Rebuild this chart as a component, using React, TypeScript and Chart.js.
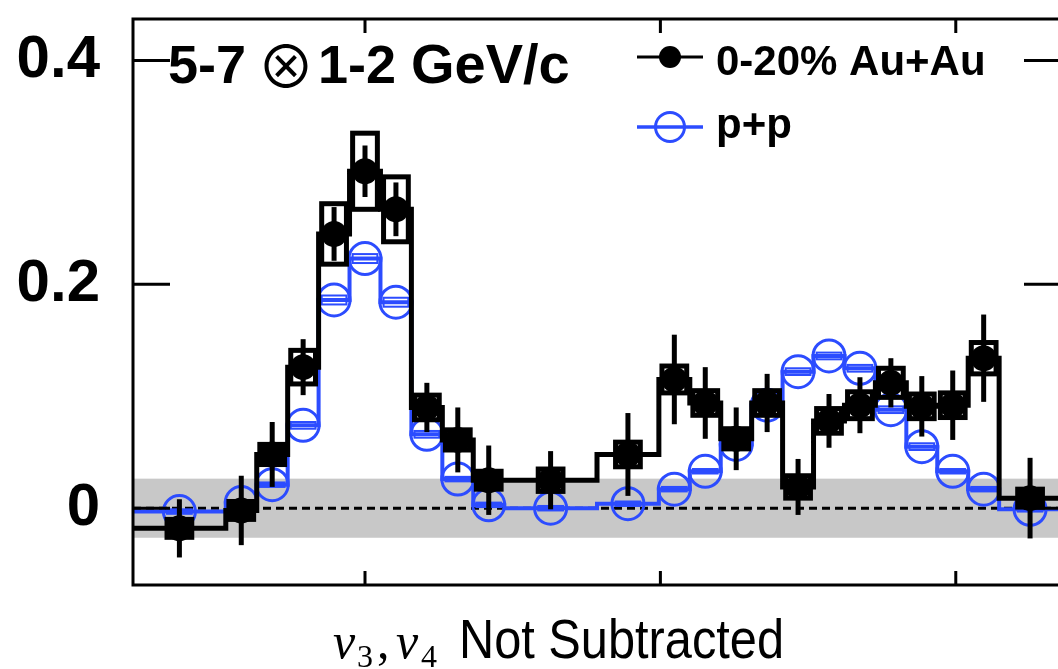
import React, { useEffect, useRef } from "react";
import { Chart, registerables } from "chart.js";

Chart.register(...registerables);

// Δφ bin width (rad); bin edges below are given in units of this width
const BIN = Math.PI / 30;
const BIN_EDGES = [
  -7.5, -4.5, -3.5, -2.5, -1.5, -0.5, 0.5, 1.5, 2.5, 3.5, 4.5, 7.5, 9.5,
  10.5, 11.5, 12.5, 13.5, 14.5, 15.5, 16.5, 17.5, 18.5, 19.5, 20.5, 22.5,
];

// 0-20% Au+Au per-trigger yields, statistical and systematic uncertainties
const AUAU = [
  -0.018, -0.002, 0.048, 0.126, 0.245, 0.301, 0.267, 0.09, 0.061, 0.025,
  0.025, 0.048, 0.115, 0.094, 0.062, 0.094, 0.019, 0.078, 0.092, 0.112,
  0.091, 0.092, 0.134, 0.009,
];
const AUAU_STAT = [
  0.026, 0.031, 0.029, 0.025, 0.024, 0.023, 0.024, 0.022, 0.029, 0.031,
  0.026, 0.037, 0.04, 0.032, 0.028, 0.026, 0.025, 0.024, 0.025, 0.022,
  0.027, 0.031, 0.039, 0.036,
];
const AUAU_SYS = [
  0.008, 0.008, 0.009, 0.015, 0.027, 0.034, 0.029, 0.011, 0.009, 0.008,
  0.01, 0.011, 0.012, 0.011, 0.009, 0.011, 0.01, 0.011, 0.012, 0.013,
  0.011, 0.011, 0.014, 0.008,
];

// p+p per-trigger yields and systematic uncertainties
const PP = [
  -0.003, 0.005, 0.021, 0.074, 0.186, 0.223, 0.184, 0.066, 0.026, 0.003,
  0.0, 0.004, 0.017, 0.033, 0.057, 0.092, 0.122, 0.136, 0.125, 0.088,
  0.055, 0.033, 0.017, -0.001,
];
const PP_SYS = [
  0.002, 0.002, 0.002, 0.003, 0.004, 0.004, 0.004, 0.003, 0.002, 0.002,
  0.002, 0.002, 0.002, 0.002, 0.003, 0.003, 0.003, 0.003, 0.003, 0.003,
  0.003, 0.002, 0.002, 0.002,
];

const X_TICKS = [0, 1, 2];
const Y_TICKS = [0, 0.2, 0.4];
const X_MIN = -Math.PI / 4;
const X_MAX = (3 * Math.PI) / 4;
const Y_MIN = -0.0686;
const Y_MAX = 0.437;
// overall normalisation uncertainty band around zero
const BAND_HALF = 0.0264;

const TITLE_PARTS = ["5-7", "\u2297", "1-2", "GeV/c"];
const LEGEND_LABELS = ["0-20% Au+Au", "p+p"];

const BLACK = "#000000";
const BLUE = "#2c4cff";
const SANS = '"Liberation Sans", Arial, Helvetica, sans-serif';
const SERIF = '"Liberation Serif", "DejaVu Serif", serif';

const centers = BIN_EDGES.slice(0, -1).map((e, i) => ((e + BIN_EDGES[i + 1]) / 2) * BIN);

function stepPoints(vals: number[]) {
  const pts: { x: number; y: number }[] = [];
  vals.forEach((v, i) => {
    pts.push({ x: BIN_EDGES[i] * BIN, y: v });
    pts.push({ x: BIN_EDGES[i + 1] * BIN, y: v });
  });
  return pts;
}

function pointData(vals: number[]) {
  return vals.map((v, i) => ({ x: centers[i], y: v }));
}

const BOX_HALF_W = 0.4 * BIN;

const decorations = {
  id: "decorations",
  beforeDatasetsDraw(chart: any) {
    const { ctx, chartArea: a, scales } = chart;
    const y = scales.y;
    ctx.save();
    ctx.fillStyle = "#c8c8c8";
    const t = y.getPixelForValue(BAND_HALF);
    const b = y.getPixelForValue(-BAND_HALF);
    ctx.fillRect(a.left, t, a.right - a.left, b - t);
    ctx.strokeStyle = BLACK;
    ctx.lineWidth = 3;
    ctx.setLineDash([8, 5]);
    const y0 = y.getPixelForValue(0);
    ctx.beginPath();
    ctx.moveTo(a.left, y0);
    ctx.lineTo(a.right, y0);
    ctx.stroke();
    ctx.restore();
  },
  afterDatasetDraw(chart: any, args: any) {
    const { ctx, scales, chartArea: a } = chart;
    const xs = scales.x;
    const ys = scales.y;
    ctx.save();
    ctx.beginPath();
    ctx.rect(a.left, a.top, a.right - a.left, a.bottom - a.top);
    ctx.clip();
    if (args.index === 2) {
      // p+p systematic boxes
      ctx.strokeStyle = BLUE;
      ctx.lineWidth = 2;
      PP.forEach((v, i) => {
        const l = xs.getPixelForValue(centers[i] - BOX_HALF_W);
        const r = xs.getPixelForValue(centers[i] + BOX_HALF_W);
        const t = ys.getPixelForValue(v + PP_SYS[i]);
        const bt = ys.getPixelForValue(v - PP_SYS[i]);
        ctx.strokeRect(l, t, r - l, bt - t);
      });
    }
    if (args.index === 1) {
      // Au+Au systematic boxes and statistical bars
      ctx.strokeStyle = BLACK;
      ctx.lineWidth = 5;
      AUAU.forEach((v, i) => {
        const l = xs.getPixelForValue(centers[i] - BOX_HALF_W);
        const r = xs.getPixelForValue(centers[i] + BOX_HALF_W);
        const t = ys.getPixelForValue(v + AUAU_SYS[i]);
        const bt = ys.getPixelForValue(v - AUAU_SYS[i]);
        ctx.strokeRect(l, t, r - l, bt - t);
      });
      ctx.lineWidth = 5;
      ctx.lineCap = "butt";
      AUAU.forEach((v, i) => {
        const x = xs.getPixelForValue(centers[i]);
        ctx.beginPath();
        ctx.moveTo(x, ys.getPixelForValue(v + AUAU_STAT[i]));
        ctx.lineTo(x, ys.getPixelForValue(v - AUAU_STAT[i]));
        ctx.stroke();
      });
    }
    ctx.restore();
  },
  afterDraw(chart: any) {
    const { ctx, chartArea: a, scales } = chart;
    const xs = scales.x;
    const ys = scales.y;
    ctx.save();
    ctx.strokeStyle = BLACK;
    ctx.lineWidth = 3;
    ctx.lineCap = "butt";
    ctx.setLineDash([]);
    // frame
    ctx.beginPath();
    ctx.moveTo(a.left, a.top);
    ctx.lineTo(a.right, a.top);
    ctx.moveTo(a.left, a.top - 1.5);
    ctx.lineTo(a.left, a.bottom + 1.5);
    ctx.moveTo(a.left, a.bottom);
    ctx.lineTo(a.right, a.bottom);
    ctx.moveTo(a.right, a.top);
    ctx.lineTo(a.right, a.bottom);
    ctx.stroke();
    // inward ticks
    ctx.beginPath();
    X_TICKS.forEach((v) => {
      const x = xs.getPixelForValue(v);
      ctx.moveTo(x, a.bottom);
      ctx.lineTo(x, a.bottom - 14);
      ctx.moveTo(x, a.top);
      ctx.lineTo(x, a.top + 14);
    });
    Y_TICKS.forEach((v) => {
      const y = ys.getPixelForValue(v);
      ctx.moveTo(a.left, y);
      ctx.lineTo(a.left + 37, y);
      ctx.moveTo(a.right, y);
      ctx.lineTo(a.right - 37, y);
    });
    ctx.stroke();

    // panel label
    ctx.fillStyle = BLACK;
    ctx.textBaseline = "alphabetic";
    ctx.textAlign = "left";
    ctx.font = `bold 54px ${SANS}`;
    ctx.fillText(TITLE_PARTS[0], 168, 83);
    ctx.font = `58px "Noto Sans CJK JP", "DejaVu Sans", sans-serif`;
    ctx.textAlign = "center";
    ctx.textBaseline = "middle";
    ctx.fillText(TITLE_PARTS[1], 286, 66);
    ctx.textAlign = "left";
    ctx.textBaseline = "alphabetic";
    ctx.font = `bold 54px ${SANS}`;
    ctx.fillText(TITLE_PARTS[2], 318, 83);
    ctx.font = `bold 56px ${SANS}`;
    ctx.fillText(TITLE_PARTS[3], 411, 83);

    // legend
    ctx.lineWidth = 3;
    ctx.strokeStyle = BLACK;
    ctx.beginPath();
    ctx.moveTo(637, 57);
    ctx.lineTo(703, 57);
    ctx.stroke();
    ctx.beginPath();
    ctx.arc(670, 57, 11, 0, Math.PI * 2);
    ctx.fill();
    ctx.strokeStyle = BLUE;
    ctx.lineWidth = 3.5;
    ctx.beginPath();
    ctx.moveTo(637, 127);
    ctx.lineTo(703, 127);
    ctx.stroke();
    ctx.lineWidth = 3;
    ctx.beginPath();
    ctx.arc(670, 127, 14.5, 0, Math.PI * 2);
    ctx.stroke();
    ctx.fillStyle = BLACK;
    ctx.font = `bold 42px ${SANS}`;
    ctx.fillText(LEGEND_LABELS[0], 716, 75);
    ctx.fillText(LEGEND_LABELS[1], 716, 138);

    // axis title: v_3, v_4 Not Subtracted
    const base = 658;
    ctx.font = `italic 50px ${SERIF}`;
    ctx.fillText("v", 333, base);
    ctx.font = `32px ${SERIF}`;
    ctx.fillText("3", 357, base + 9);
    ctx.font = `50px ${SERIF}`;
    ctx.fillText(",", 377, base);
    ctx.font = `italic 50px ${SERIF}`;
    ctx.fillText("v", 396, base);
    ctx.font = `32px ${SERIF}`;
    ctx.fillText("4", 421, base + 9);
    // condensed sans: regular face compressed horizontally
    ctx.font = `56px ${SANS}`;
    ctx.translate(459, base);
    ctx.scale(0.87, 1);
    ctx.fillText("Not Subtracted", 0, 0);
    ctx.restore();
  },
};

export default function App() {
  const ref = useRef<HTMLCanvasElement | null>(null);

  useEffect(() => {
    if (!ref.current) return;
    const chart = new Chart(ref.current, {
      type: "line",
      data: {
        datasets: [
          {
            // Au+Au markers
            data: pointData(AUAU),
            showLine: false,
            pointRadius: 13,
            pointBackgroundColor: BLACK,
            pointBorderWidth: 0,
            order: 1,
          },
          {
            // Au+Au step histogram
            data: stepPoints(AUAU),
            borderColor: BLACK,
            borderWidth: 5,
            pointRadius: 0,
            tension: 0,
            order: 2,
          },
          {
            // p+p markers
            data: pointData(PP),
            showLine: false,
            pointRadius: 16,
            pointBorderWidth: 3,
            pointBorderColor: BLUE,
            pointBackgroundColor: "rgba(0,0,0,0)",
            order: 3,
          },
          {
            // p+p step histogram
            data: stepPoints(PP),
            borderColor: BLUE,
            borderWidth: 4,
            pointRadius: 0,
            tension: 0,
            order: 4,
          },
        ],
      } as any,
      options: {
        animation: false,
        responsive: false,
        devicePixelRatio: 1,
        layout: { padding: { left: 0, top: 10, right: 17, bottom: 84 } },
        plugins: { legend: { display: false }, tooltip: { enabled: false } },
        scales: {
          x: { type: "linear", min: X_MIN, max: X_MAX, display: false },
          y: {
            type: "linear",
            min: Y_MIN,
            max: Y_MAX,
            afterBuildTicks: (s: any) => {
              s.ticks = Y_TICKS.map((v) => ({ value: v }));
            },
            afterFit: (s: any) => {
              s.width = 133;
              s.paddingTop = 0;
              s.paddingBottom = 0;
            },
            grid: { display: false, drawTicks: false },
            border: { display: false },
            ticks: {
              color: BLACK,
              padding: 33,
              font: { family: SANS, size: 60, weight: "bold" },
              callback: (v: any) => String(v),
            },
          },
        },
      } as any,
      plugins: [decorations],
    });
    return () => chart.destroy();
  }, []);

  return (
    <div
      style={{
        position: "fixed",
        left: 0,
        top: 0,
        width: 1058,
        height: 669,
        overflow: "hidden",
        background: "#ffffff",
      }}
    >
      <canvas ref={ref} width={1080} height={669} style={{ display: "block" }} />
    </div>
  );
}
